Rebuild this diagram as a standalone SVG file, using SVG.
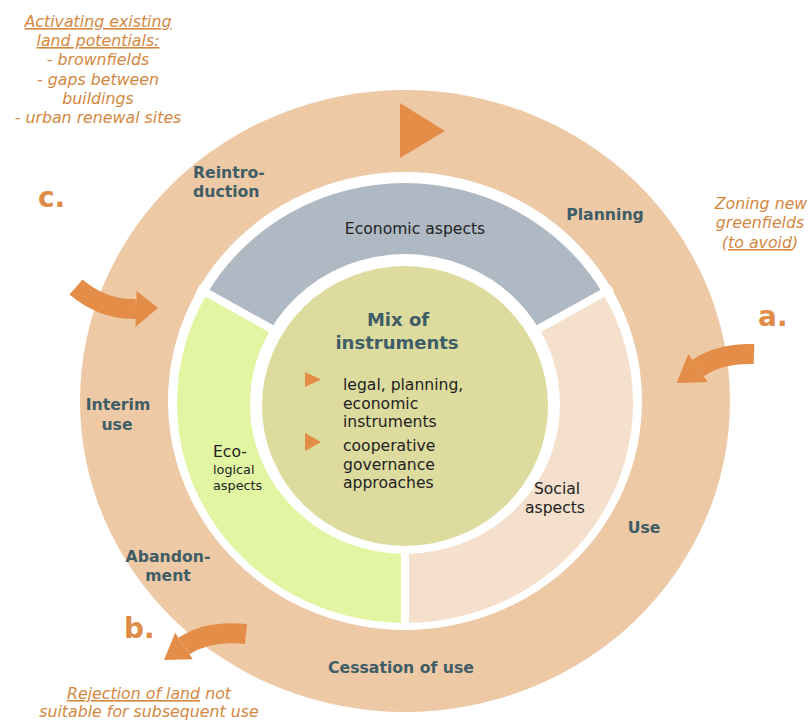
<svg xmlns="http://www.w3.org/2000/svg" width="808" height="720" viewBox="0 0 808 720">
<style>
.ring{font-family:"DejaVu Sans","Liberation Sans",sans-serif;font-weight:bold;font-size:15.7px;fill:#3E5D66}
.seg{font-family:"DejaVu Sans","Liberation Sans",sans-serif;font-size:15.6px;fill:#222}
.note{font-family:"DejaVu Sans","Liberation Sans",sans-serif;font-style:italic;font-size:15.8px;fill:#D4883F;text-anchor:middle}
.letter{font-family:"DejaVu Sans","Liberation Sans",sans-serif;font-weight:bold;font-size:28px;fill:#E08C48}
.u{text-decoration:underline}
.arrow{fill:none;stroke:#E38D48;stroke-width:20}
.head{fill:#E38D48}
</style>
<rect width="808" height="720" fill="#fff"/>
<g id="cycle-ring">
<ellipse cx="405" cy="401" rx="325" ry="311" fill="#EEC9A6"/>
<ellipse cx="405" cy="401" rx="237" ry="229" fill="#fff"/>
<polygon points="400,103 400,158 445,131" fill="#E38D48"/>
</g>
<g id="economic">
<path d="M405,403 L602.5,293 A228,220 0 0 0 207.5,293 Z" fill="#AEB9C3"/>
</g>
<g id="ecological">
<path d="M405,403 L207.5,293 A228,220 0 0 0 405,623 Z" fill="#E2F5A2"/>
</g>
<g id="social">
<path d="M405,403 L405,623 A228,220 0 0 0 602.5,293 Z" fill="#F5E0CD"/>
</g>
<g id="separators" stroke="#fff" stroke-width="8">
<line x1="405" y1="403" x2="612" y2="288"/>
<line x1="405" y1="403" x2="198" y2="288"/>
<line x1="405" y1="403" x2="405" y2="630"/>
</g>
<g id="center">
<ellipse cx="405" cy="404" rx="155" ry="150" fill="#fff"/>
<ellipse cx="405" cy="406" rx="143" ry="140" fill="#DDDB9E"/>
<text x="398" y="326" text-anchor="middle" style="font-family:'DejaVu Sans','Liberation Sans',sans-serif;font-weight:bold;font-size:18px;fill:#3E5D66">Mix of</text>
<text x="397" y="349" text-anchor="middle" style="font-family:'DejaVu Sans','Liberation Sans',sans-serif;font-weight:bold;font-size:18px;fill:#3E5D66">instruments</text>
<polygon points="305,372 305,387 321,379.5" fill="#E38D48"/>
<polygon points="305,433 305,451 321,442" fill="#E38D48"/>
<text class="seg" x="343" y="390">legal, planning,</text>
<text class="seg" x="343" y="408.5">economic</text>
<text class="seg" x="343" y="427">instruments</text>
<text class="seg" x="343" y="451">cooperative</text>
<text class="seg" x="343" y="469.5">governance</text>
<text class="seg" x="343" y="488">approaches</text>
</g>
<g id="segment-labels">
<text class="seg" x="415" y="234" text-anchor="middle">Economic aspects</text>
<text class="seg" x="213" y="457">Eco-</text>
<text class="seg" x="213" y="474" style="font-size:12.8px">logical</text>
<text class="seg" x="213" y="490" style="font-size:12.8px">aspects</text>
<text class="seg" x="557" y="494" text-anchor="middle">Social</text>
<text class="seg" x="555" y="513" text-anchor="middle">aspects</text>
</g>
<g id="ring-labels">
<text class="ring" x="193" y="178">Reintro-</text>
<text class="ring" x="193" y="197">duction</text>
<text class="ring" x="605" y="220" text-anchor="middle">Planning</text>
<text class="ring" x="118" y="410" text-anchor="middle">Interim</text>
<text class="ring" x="117" y="430" text-anchor="middle">use</text>
<text class="ring" x="168" y="562" text-anchor="middle">Abandon-</text>
<text class="ring" x="168" y="581" text-anchor="middle">ment</text>
<text class="ring" x="644" y="533" text-anchor="middle">Use</text>
<text class="ring" x="401" y="673" text-anchor="middle">Cessation of use</text>
</g>
<g id="connectors">
<path class="arrow" d="M754,354 Q720,353 698,368"/>
<polygon class="head" points="676.5,383 688.4,354 707.6,382"/>
<path class="arrow" d="M76,287 Q103,310 136,309"/>
<polygon class="head" points="158,308 136.5,291 135.5,327"/>
<path class="arrow" d="M246,634 Q208,630 184,646"/>
<polygon class="head" points="164,660 175.2,632.7 192.8,659.3"/>
</g>
<g id="note-c">
<text class="letter" x="38" y="207">c.</text>
<text class="note" x="98" y="27"><tspan class="u">Activating existing</tspan></text>
<text class="note" x="98" y="46"><tspan class="u">land potentials:</tspan></text>
<text class="note" x="98" y="65">- brownfields</text>
<text class="note" x="98" y="85">- gaps between</text>
<text class="note" x="98" y="104">buildings</text>
<text class="note" x="98" y="123">- urban renewal sites</text>
</g>
<g id="note-a">
<text class="letter" x="758" y="326">a.</text>
<text class="note" x="761" y="209">Zoning new</text>
<text class="note" x="760" y="228">greenfields</text>
<text class="note" x="760" y="248">(<tspan class="u">to avoid</tspan>)</text>
</g>
<g id="note-b">
<text class="letter" x="124" y="638">b.</text>
<text class="note" x="149" y="699"><tspan class="u">Rejection of land</tspan> not</text>
<text class="note" x="149" y="717">suitable for subsequent use</text>
</g>
</svg>
